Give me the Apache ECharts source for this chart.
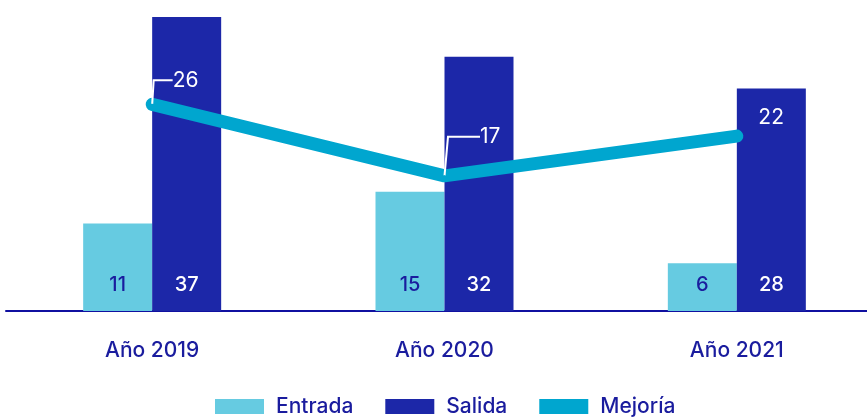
<!DOCTYPE html>
<html>
<head>
<meta charset="utf-8">
<script src="https://cdn.jsdelivr.net/npm/echarts@6/dist/echarts.min.js"></script>
<style>
  html, body { margin: 0; padding: 0; background: #ffffff; }
  #chart { width: 867px; height: 417px; }
</style>
</head>
<body>
<div id="chart"></div>
<script>
// Years shown on the category axis
const years = ['Año 2019', 'Año 2020', 'Año 2021'];
// Series values
const entrada = [11, 15, 6];
const salida = [37, 32, 28];
const mejoria = [26, 17, 22];

const DARK = '#1a1c9e';
const FONT = 'Inter, "DejaVu Sans", sans-serif';

// Label placement for each Mejoría point: shift and leader line
const mejoriaLabelShift = [
  { dx: 15, dy: -24, line: true, len: 19 },
  { dx: 30, dy: -39, line: true, len: 32 },
  { dx: 16, dy: -18, line: false, len: 0 }
];

const chart = echarts.init(document.getElementById('chart'));

chart.setOption({
  animation: false,
  backgroundColor: '#ffffff',
  textStyle: { fontFamily: FONT },
  legend: {
    top: 396,
    left: 215,
    padding: 0,
    itemWidth: 49,
    itemHeight: 15,
    itemGap: 32,
    icon: 'rect',
    textStyle: { fontSize: 21, color: DARK, fontFamily: FONT, fontWeight: 500, padding: [0, 0, 0, 7] },
    data: ['Entrada', 'Salida', 'Mejoría']
  },
  grid: { left: 6, width: 877, top: 1, bottom: 106, outerBoundsMode: 'none', containLabel: false },
  xAxis: {
    type: 'category',
    data: years,
    axisTick: { show: false },
    axisLine: { lineStyle: { color: '#1010a0', width: 2 } },
    axisLabel: { color: DARK, fontSize: 21, fontWeight: 500, margin: 29, fontFamily: FONT }
  },
  yAxis: {
    type: 'value',
    min: 0,
    max: 39,
    show: false,
    splitLine: { show: false }
  },
  series: [
    {
      name: 'Entrada',
      type: 'bar',
      data: entrada,
      barWidth: 69,
      barGap: '0%',
      itemStyle: { color: '#66cbe1' },
      label: {
        show: true,
        position: 'insideBottom',
        distance: 16,
        color: DARK,
        fontSize: 20,
        fontWeight: 500,
        fontFamily: FONT
      }
    },
    {
      name: 'Salida',
      type: 'bar',
      data: salida,
      barWidth: 69,
      barGap: '0%',
      itemStyle: { color: '#1c27a8' },
      label: {
        show: true,
        position: 'insideBottom',
        distance: 16,
        color: '#ffffff',
        fontSize: 20,
        fontWeight: 500,
        fontFamily: FONT
      }
    },
    {
      name: 'Mejoría',
      type: 'line',
      data: mejoria.map((v, i) => ({
        value: v,
        labelLine: { show: mejoriaLabelShift[i].line, length2: mejoriaLabelShift[i].len }
      })),
      symbol: 'circle',
      symbolSize: 1,
      showSymbol: true,
      itemStyle: { color: '#00a6cf' },
      color: '#00a6cf',
      lineStyle: { color: '#00a6cf', width: 13, cap: 'round', join: 'round' },
      z: 5,
      label: {
        show: true,
        position: 'right',
        distance: 5,
        color: '#ffffff',
        fontSize: 21,
        fontFamily: FONT
      },
      labelLine: {
        show: true,
        minTurnAngle: 0,
        lineStyle: { color: '#ffffff', width: 2 }
      },
      labelLayout: function (params) {
        const s = mejoriaLabelShift[params.dataIndex];
        return { dx: s.dx, dy: s.dy };
      }
    }
  ]
});
</script>
</body>
</html>
